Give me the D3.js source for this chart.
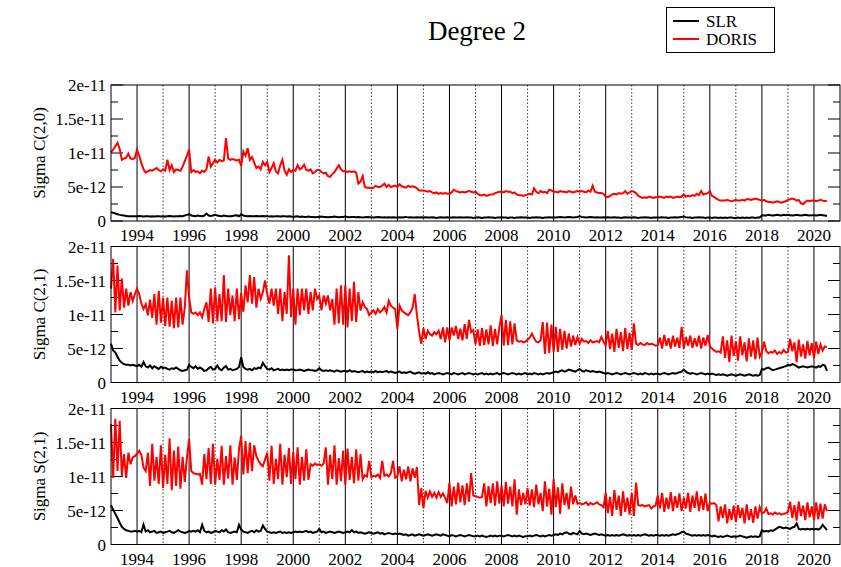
<!DOCTYPE html>
<head>
    <meta charset="utf-8">
    <script src="https://d3js.org/d3.v7.min.js"></script>
    <style>
        body { margin: 0; background: #fff; }
        text { font-family: "Liberation Serif", "Times New Roman", serif; fill: #000; }
    </style>
</head>

<body>
    <svg width="841" height="567"></svg>

    <script>
        // monthly values starting 1993.0, unit 1e-12
        const startYear = 1993

        const slrC20 = [
            1.3, 1.2, 1.1, 1.0, 0.9, 0.85, 0.8, 0.75, 0.7, 0.7, 0.7, 0.7,
            0.7, 0.75, 0.7, 0.65, 0.7, 0.7, 0.65, 0.7, 0.65, 0.7, 0.7, 0.65,
            0.7, 0.65, 0.7, 0.75, 0.7, 0.65, 0.7, 0.7, 0.75, 0.7, 0.8, 0.9,
            1.0, 0.8, 0.75, 0.7, 0.8, 0.75, 0.7, 0.8, 1.1, 0.8, 0.75, 0.8,
            0.9, 0.8, 0.75, 0.7, 0.8, 0.75, 0.7, 0.7, 0.75, 0.8, 0.85, 0.7,
            1.0, 0.8, 0.75, 0.7, 0.75, 0.7, 0.7, 0.75, 0.7, 0.7, 0.75, 0.7,
            0.7, 0.65, 0.7, 0.65, 0.7, 0.7, 0.65, 0.7, 0.7, 0.65, 0.7, 0.65,
            0.6, 0.65, 0.7, 0.6, 0.65, 0.6, 0.6, 0.65, 0.6, 0.6, 0.55, 0.6,
            0.6, 0.65, 0.6, 0.6, 0.55, 0.6, 0.6, 0.65, 0.6, 0.55, 0.6, 0.6,
            0.65, 0.6, 0.55, 0.6, 0.6, 0.55, 0.6, 0.55, 0.5, 0.55, 0.6, 0.55,
            0.55, 0.5, 0.55, 0.6, 0.55, 0.5, 0.55, 0.5, 0.55, 0.5, 0.55, 0.5,
            0.5, 0.55, 0.5, 0.55, 0.6, 0.5, 0.55, 0.5, 0.5, 0.55, 0.5, 0.55,
            0.5, 0.55, 0.5, 0.5, 0.55, 0.5, 0.45, 0.5, 0.55, 0.5, 0.5, 0.55,
            0.5, 0.5, 0.55, 0.5, 0.5, 0.55, 0.5, 0.5, 0.55, 0.5, 0.5, 0.45,
            0.5, 0.55, 0.5, 0.45, 0.5, 0.5, 0.55, 0.5, 0.5, 0.45, 0.5, 0.5,
            0.55, 0.5, 0.5, 0.45, 0.5, 0.5, 0.45, 0.5, 0.5, 0.55, 0.5, 0.5,
            0.5, 0.45, 0.5, 0.5, 0.55, 0.5, 0.5, 0.45, 0.5, 0.5, 0.55, 0.5,
            0.55, 0.5, 0.55, 0.6, 0.55, 0.5, 0.55, 0.6, 0.55, 0.5, 0.55, 0.6,
            0.7, 0.6, 0.55, 0.5, 0.55, 0.6, 0.55, 0.5, 0.55, 0.5, 0.5, 0.55,
            0.5, 0.55, 0.5, 0.5, 0.55, 0.5, 0.5, 0.45, 0.5, 0.55, 0.5, 0.5,
            0.5, 0.55, 0.5, 0.45, 0.5, 0.5, 0.55, 0.5, 0.5, 0.45, 0.5, 0.5,
            0.5, 0.5, 0.55, 0.5, 0.5, 0.45, 0.5, 0.5, 0.55, 0.5, 0.55, 0.6,
            0.65, 0.55, 0.5, 0.5, 0.45, 0.5, 0.5, 0.55, 0.5, 0.5, 0.45, 0.5,
            0.5, 0.45, 0.5, 0.5, 0.45, 0.5, 0.45, 0.5, 0.45, 0.5, 0.5, 0.45,
            0.45, 0.5, 0.45, 0.5, 0.45, 0.5, 0.45, 0.5, 0.5, 0.45, 0.5, 0.5,
            0.8, 0.85, 0.8, 0.9, 0.85, 0.8, 0.85, 0.9, 0.85, 0.8, 0.9, 0.85,
            0.9, 0.85, 0.8, 0.85, 0.9, 0.85, 0.8, 0.85, 0.9, 0.85, 0.8, 0.85,
            0.85, 0.8, 0.85, 0.9, 0.85, 0.8, 0.75
        ]

        const dorisC20 = [
            10.1, 10.5, 11.0, 11.5, 10.6, 9.0, 9.2, 9.3, 9.9, 9.2, 9.1, 9.3,
            10.5, 9.6, 8.5, 7.6, 7.1, 7.3, 7.5, 7.4, 7.6, 7.8, 7.5, 7.3,
            7.6, 7.4, 9.0, 7.5, 8.2, 7.2, 7.6, 7.5, 7.4, 8.0, 8.8, 9.6,
            10.5, 7.2, 7.5, 7.2, 7.3, 7.0, 7.4, 7.2, 7.6, 9.5, 8.0, 8.5,
            9.0, 8.6, 9.0, 8.8, 8.9, 12.2, 9.2, 9.0, 9.1, 9.0, 8.9, 9.0,
            8.1, 10.2, 9.6, 10.7, 9.0, 9.4, 8.6, 7.8, 8.0, 7.6, 8.7, 8.2,
            8.7, 7.2, 7.8, 8.5, 7.3, 7.0, 8.2, 9.0, 7.4, 6.8, 7.6, 7.2,
            7.5, 7.4, 8.2, 7.6, 7.8, 8.3, 7.5, 7.4, 7.6, 7.0, 7.2, 7.5,
            7.5, 7.2, 7.0, 7.1, 6.6, 6.5, 6.9, 7.2, 7.7, 8.2, 7.6, 7.3,
            7.3, 7.2, 7.3, 7.2, 7.3, 7.1, 5.5, 5.8, 6.6, 5.0, 4.9, 4.9,
            4.8, 4.9, 5.2, 5.0, 5.0, 5.2, 5.5, 5.0, 5.3, 5.0, 5.1, 5.2,
            5.0, 5.4, 5.1, 5.0, 4.9, 5.2, 5.0, 5.1, 5.0, 4.8, 4.5, 4.5,
            4.5, 4.4, 4.3, 4.4, 4.2, 4.1, 4.2, 4.0, 4.1, 4.0, 4.1, 4.0,
            4.0, 4.2, 4.6, 4.4, 4.3, 4.2, 4.3, 4.2, 4.3, 4.4, 4.3, 4.2,
            4.3, 4.0, 3.8, 3.8, 3.9, 3.7, 3.8, 3.9, 3.9, 4.1, 4.2, 4.3,
            4.3, 4.2, 4.4, 4.3, 4.3, 4.1, 4.2, 3.9, 3.8, 3.8, 3.7, 3.8,
            3.9, 4.0, 3.9, 4.8, 4.3, 4.1, 4.4, 4.2, 4.3, 4.1, 4.6, 4.5,
            4.3, 4.3, 4.2, 4.4, 4.3, 4.3, 4.2, 4.4, 4.3, 4.2, 4.3, 4.4,
            4.3, 4.4, 4.3, 4.2, 4.5, 4.3, 5.2, 4.3, 4.2, 4.1, 4.1, 4.0,
            3.6, 3.5, 3.7, 3.9, 4.0, 3.9, 4.1, 4.0, 4.1, 4.4, 4.0, 4.2,
            4.4, 4.3, 4.1, 3.7, 3.5, 3.4, 3.5, 3.4, 3.6, 3.5, 3.4, 3.5,
            3.5, 3.6, 3.5, 3.4, 3.6, 3.5, 3.6, 3.4, 3.5, 3.6, 3.5, 3.6,
            3.9, 3.6, 3.7, 3.6, 3.8, 3.7, 4.0, 3.8, 4.4, 3.9, 4.0, 4.1,
            4.4, 3.7, 3.5, 3.3, 3.1, 3.0, 3.0, 3.0, 3.1, 3.0, 2.9, 3.0,
            3.1, 3.0, 3.0, 3.1, 3.0, 3.2, 3.2, 3.1, 3.2, 3.3, 3.2, 3.1,
            3.0, 3.1, 2.9, 2.8, 2.8, 2.7, 2.8, 2.9, 2.8, 2.7, 2.8, 2.9,
            3.1, 3.2, 3.3, 3.2, 3.0, 3.1, 2.6, 2.5, 2.8, 3.0, 2.9, 3.0,
            3.0, 2.9, 3.0, 3.1, 3.0, 2.9, 3.0
        ]

        const slrC21 = [
            5.7, 4.7, 4.4, 3.8, 3.2, 2.9, 2.7, 2.6, 2.6, 2.5, 2.6, 2.5,
            2.4, 2.6, 2.3, 3.0, 2.4, 2.2, 2.5, 2.1, 2.4, 2.2, 2.0, 2.3,
            2.1, 2.2, 2.0, 1.9, 2.1, 2.0, 2.2, 2.0, 1.8, 1.7, 1.8, 1.9,
            2.6, 2.3, 2.1, 2.4, 2.0, 2.2, 2.0, 1.7, 1.8, 2.1, 2.3, 1.9,
            2.0, 2.5, 2.0, 1.8, 2.2, 2.4, 1.9, 2.0, 1.8, 1.9, 2.0, 2.3,
            3.7, 2.3, 2.0, 1.9, 2.0, 1.8, 2.1, 2.0, 2.2, 2.1, 2.9, 2.4,
            2.0, 1.9, 2.1, 1.8, 1.9, 2.0, 1.8, 1.9, 1.8, 1.9, 1.8, 1.9,
            1.9, 1.8, 1.8, 1.9, 1.8, 1.7, 1.8, 1.9, 1.8, 1.8, 1.7, 1.8,
            2.1, 1.8, 1.7, 1.8, 1.7, 1.8, 1.7, 1.6, 1.8, 1.7, 1.6, 1.7,
            1.7, 1.6, 1.8, 1.6, 1.7, 1.6, 1.5, 1.6, 1.7, 1.5, 1.6, 1.5,
            1.6, 1.5, 1.7, 1.5, 1.6, 1.5, 1.6, 1.7, 1.5, 1.6, 1.5, 1.4,
            1.5, 1.6, 1.4, 1.5, 1.4, 1.5, 1.6, 1.4, 1.3, 1.4, 1.5, 1.3,
            1.4, 1.3, 1.5, 1.3, 1.4, 1.2, 1.3, 1.4, 1.3, 1.2, 1.3, 1.4,
            1.3, 1.2, 1.4, 1.3, 1.2, 1.3, 1.4, 1.2, 1.3, 1.4, 1.3, 1.2,
            1.3, 1.2, 1.3, 1.4, 1.2, 1.3, 1.2, 1.3, 1.2, 1.3, 1.4, 1.2,
            1.3, 1.4, 1.3, 1.2, 1.3, 1.4, 1.3, 1.2, 1.3, 1.2, 1.3, 1.4,
            1.2, 1.3, 1.2, 1.4, 1.3, 1.2, 1.3, 1.2, 1.3, 1.4, 1.3, 1.4,
            1.5, 1.6, 1.5, 1.7, 1.8, 1.6, 1.7, 1.9, 1.8, 1.7, 1.6, 1.8,
            2.0, 1.7, 1.6, 1.8, 1.7, 1.6, 1.7, 1.6, 1.5, 1.6, 1.5, 1.4,
            1.3, 1.4, 1.3, 1.2, 1.3, 1.4, 1.3, 1.2, 1.3, 1.4, 1.3, 1.2,
            1.3, 1.4, 1.3, 1.2, 1.3, 1.2, 1.4, 1.3, 1.2, 1.3, 1.2, 1.3,
            1.3, 1.2, 1.3, 1.4, 1.3, 1.2, 1.3, 1.4, 1.3, 1.4, 1.5, 1.6,
            1.9, 1.6, 1.4, 1.3, 1.4, 1.3, 1.2, 1.3, 1.4, 1.3, 1.2, 1.3,
            1.2, 1.3, 1.2, 1.1, 1.2, 1.1, 1.2, 1.1, 1.0, 1.1, 1.2, 1.1,
            1.0, 1.1, 1.2, 1.1, 1.0, 1.1, 1.2, 1.1, 1.0, 1.1, 1.0, 1.1,
            2.0, 1.9, 2.1, 2.2, 2.0, 1.8, 1.9, 2.0, 2.1, 2.2, 2.3, 2.4,
            2.6, 2.5, 2.7, 2.6, 2.4, 2.2, 2.3, 2.4, 2.3, 2.2, 2.3, 2.4,
            2.3, 2.2, 2.4, 2.3, 2.6, 2.5, 1.7
        ]

        const dorisC21 = [
            13.8, 18.2, 10.3, 17.2, 10.6, 15.3, 11.0, 13.8, 11.3, 13.3, 12.0, 13.0,
            13.8, 13.0, 11.6, 10.8, 11.5, 9.9, 12.2, 9.5, 13.0, 8.5, 13.5, 8.8,
            12.5, 8.3, 12.5, 8.2, 12.0, 8.0, 12.5, 8.1, 12.5, 8.5, 11.0, 16.5,
            12.5, 10.3, 10.1, 10.3, 9.9, 10.3, 9.6, 10.8, 11.8, 8.9, 13.8, 8.7,
            14.0, 9.0, 13.0, 9.0, 15.8, 8.9, 13.8, 9.9, 12.8, 9.0, 13.8, 9.3,
            13.2, 10.4, 14.3, 11.8, 15.8, 11.6, 15.5, 11.0, 13.8, 12.3, 13.3, 15.0,
            13.0, 11.6, 13.8, 11.3, 13.8, 10.1, 13.8, 9.0, 13.3, 10.1, 18.7, 9.6,
            13.8, 8.5, 13.8, 9.9, 13.8, 10.6, 13.8, 10.1, 13.3, 10.6, 13.8, 12.3,
            12.8, 10.6, 12.8, 11.6, 12.8, 10.6, 12.3, 8.5, 13.8, 8.7, 14.3, 8.5,
            14.3, 8.1, 13.8, 9.0, 14.8, 8.9, 13.3, 10.6, 11.8, 11.1, 10.8, 9.9,
            10.3, 10.6, 10.1, 10.8, 10.3, 10.6, 11.1, 10.3, 12.0, 11.3, 11.0, 10.8,
            7.9, 11.3, 10.6, 10.3, 10.1, 9.9, 10.3, 11.0, 13.0, 9.9, 7.5, 5.7,
            8.0, 6.4, 7.6, 7.1, 6.9, 7.4, 7.1, 7.6, 6.4, 8.1, 5.9, 8.1,
            6.2, 8.1, 6.9, 8.3, 6.4, 7.9, 6.2, 8.6, 6.4, 9.2, 7.4, 7.7,
            5.6, 7.8, 5.4, 8.0, 5.5, 7.8, 5.6, 8.4, 5.4, 7.9, 5.6, 8.1,
            9.9, 5.4, 9.2, 5.5, 9.0, 5.6, 8.7, 6.2, 6.0, 6.1, 5.9, 6.0,
            6.3, 6.6, 7.2, 6.5, 6.0, 5.9, 6.2, 8.9, 4.2, 8.8, 4.3, 8.5,
            4.5, 8.2, 4.5, 7.9, 4.8, 7.6, 5.0, 7.2, 5.3, 6.9, 5.5, 6.7,
            5.7, 6.4, 6.0, 6.1, 5.8, 6.2, 5.9, 6.0, 6.1, 5.9, 6.7, 6.0,
            5.5, 7.6, 4.9, 7.2, 4.5, 7.9, 5.1, 7.4, 4.6, 8.0, 4.9, 7.3,
            4.8, 8.7, 5.7, 5.5, 5.8, 5.6, 5.5, 5.8, 5.6, 5.7, 5.6, 5.4,
            5.5, 6.6, 5.0, 7.0, 5.4, 6.5, 5.0, 6.9, 5.3, 6.6, 5.1, 8.2,
            5.0, 6.7, 5.4, 6.9, 5.1, 6.5, 5.3, 6.9, 5.0, 6.6, 5.4, 7.0,
            5.3, 5.0, 4.7, 4.5, 4.6, 4.4, 6.8, 3.6, 6.2, 3.0, 6.9, 3.9,
            6.1, 3.2, 6.8, 4.0, 5.9, 3.1, 6.5, 3.8, 6.2, 3.4, 6.6, 3.8,
            4.4, 6.0, 4.6, 4.3, 4.5, 4.4, 4.7, 4.2, 4.5, 4.3, 4.8, 4.4,
            4.5, 6.4, 4.6, 5.9, 3.0, 6.3, 3.8, 5.6, 3.5, 6.1, 4.0, 5.8,
            3.6, 6.0, 4.2, 5.6, 4.7, 5.3, 5.2
        ]

        const slrS21 = [
            5.8, 5.1, 4.5, 3.9, 3.2, 2.6, 2.3, 2.1, 2.0, 1.9, 1.9, 2.0,
            1.9, 2.0, 1.8, 2.9, 1.9, 2.1, 1.8, 1.9, 2.0, 1.7, 1.8, 1.9,
            1.7, 1.8, 1.9, 2.0, 1.8, 1.7, 1.9, 2.1, 1.9, 1.8, 1.7, 1.8,
            2.0, 1.9, 2.0, 1.9, 2.1, 1.8, 2.9, 2.0, 1.8, 1.9, 1.7, 1.8,
            2.0, 1.9, 1.8, 2.1, 1.9, 2.2, 1.8, 1.7, 1.8, 1.9, 1.8, 2.9,
            2.2, 1.9, 1.8, 1.7, 1.9, 2.0, 1.8, 2.1, 1.9, 2.0, 2.8, 2.3,
            1.9, 1.8, 1.7, 1.8, 1.7, 1.8, 1.9, 1.7, 1.8, 1.7, 1.8, 1.7,
            1.8, 1.9, 1.8, 1.9, 1.8, 1.9, 2.0, 1.8, 1.9, 1.7, 1.8, 1.9,
            2.3, 1.8, 1.9, 1.7, 1.8, 1.9, 1.8, 1.7, 1.8, 1.9, 1.8, 1.7,
            1.8, 1.9, 1.8, 2.1, 1.8, 1.9, 1.7, 1.8, 1.7, 1.6, 1.7, 1.8,
            1.7, 1.6, 1.7, 1.8, 1.6, 1.7, 1.5, 1.6, 1.7, 1.6, 1.5, 1.6,
            1.5, 1.6, 1.5, 1.4, 1.5, 1.3, 1.4, 1.5, 1.3, 1.4, 1.5, 1.4,
            1.3, 1.4, 1.5, 1.4, 1.3, 1.4, 1.5, 1.4, 1.3, 1.5, 1.4, 1.3,
            1.2, 1.4, 1.3, 1.2, 1.3, 1.4, 1.3, 1.2, 1.3, 1.4, 1.3, 1.2,
            1.2, 1.3, 1.2, 1.3, 1.2, 1.1, 1.2, 1.3, 1.2, 1.3, 1.2, 1.3,
            1.3, 1.2, 1.3, 1.4, 1.3, 1.2, 1.3, 1.2, 1.3, 1.2, 1.1, 1.2,
            1.2, 1.3, 1.2, 1.3, 1.4, 1.3, 1.2, 1.3, 1.2, 1.3, 1.4, 1.3,
            1.4, 1.5, 1.4, 1.6, 1.5, 1.7, 1.8, 1.6, 1.5, 1.7, 1.6, 1.5,
            2.0, 1.6, 1.5, 1.6, 1.5, 1.4, 1.5, 1.6, 1.5, 1.4, 1.5, 1.4,
            1.3, 1.4, 1.3, 1.4, 1.3, 1.4, 1.3, 1.4, 1.5, 1.4, 1.3, 1.4,
            1.3, 1.4, 1.3, 1.4, 1.3, 1.4, 1.5, 1.4, 1.3, 1.4, 1.3, 1.4,
            1.4, 1.3, 1.4, 1.3, 1.4, 1.3, 1.4, 1.5, 1.4, 1.5, 1.6, 1.8,
            1.9, 1.6, 1.5, 1.4, 1.3, 1.4, 1.3, 1.4, 1.3, 1.4, 1.3, 1.4,
            1.3, 1.2, 1.3, 1.2, 1.1, 1.2, 1.1, 1.2, 1.3, 1.2, 1.1, 1.2,
            1.1, 1.2, 1.3, 1.2, 1.1, 1.0, 1.1, 1.2, 1.1, 1.2, 1.1, 1.2,
            2.1, 1.9, 2.0, 1.9, 2.1, 2.0, 2.2, 2.4, 2.6, 2.5, 2.4, 2.5,
            2.4, 2.3, 2.5, 2.6, 3.1, 2.3, 2.2, 2.3, 2.2, 2.3, 2.2, 2.3,
            2.2, 2.3, 2.2, 2.4, 2.9, 2.5, 2.1
        ]

        const dorisS21 = [
            17.7, 9.8, 18.5, 10.8, 18.2, 10.1, 13.3, 9.8, 13.5, 11.8, 12.8, 13.0,
            13.3, 13.8, 13.2, 11.3, 10.8, 13.5, 8.6, 14.8, 9.4, 12.9, 8.9, 14.6,
            8.3, 13.2, 8.9, 15.6, 8.0, 13.8, 8.6, 14.4, 8.2, 12.9, 9.2, 12.8,
            15.5, 10.8, 10.5, 10.4, 10.3, 10.4, 8.8, 13.3, 9.6, 14.2, 8.9, 14.8,
            8.8, 12.6, 9.5, 14.5, 8.8, 13.0, 9.7, 14.6, 8.8, 12.8, 9.5, 14.0,
            16.0, 10.3, 15.2, 10.5, 15.0, 10.8, 14.6, 13.0, 12.3, 11.8, 11.5, 12.5,
            13.5, 9.4, 14.5, 8.9, 12.6, 9.6, 14.8, 8.8, 13.2, 9.9, 14.2, 8.9,
            13.6, 9.6, 14.3, 8.8, 12.9, 9.4, 14.0, 9.5, 11.8, 11.6, 11.9, 11.7,
            11.8, 11.6, 11.9, 14.3, 8.8, 13.2, 9.6, 14.6, 8.8, 12.7, 9.3, 13.8,
            8.8, 14.1, 9.5, 12.9, 9.0, 14.0, 9.4, 13.3, 9.6, 10.2, 10.0, 12.3,
            9.9, 10.1, 10.0, 10.3, 9.8, 12.3, 10.1, 10.3, 10.0, 10.5, 12.3, 9.8,
            10.0, 11.5, 9.3, 11.0, 9.6, 11.5, 9.3, 11.2, 9.8, 11.4, 5.8, 8.3,
            5.3, 7.9, 6.9, 7.8, 7.0, 7.6, 6.9, 7.7, 7.0, 7.5, 6.9, 6.1,
            9.1, 5.6, 8.5, 5.9, 9.1, 6.2, 8.7, 5.8, 9.0, 6.3, 10.5, 7.2,
            7.1, 7.0, 6.9, 7.0, 9.0, 5.6, 8.6, 6.1, 9.0, 5.7, 9.3, 6.0,
            8.7, 5.6, 9.2, 6.0, 8.5, 5.6, 9.6, 4.4, 8.1, 5.8, 7.6, 5.9,
            8.3, 5.7, 8.1, 5.5, 8.8, 5.9, 7.6, 4.9, 9.3, 5.6, 8.2, 4.4,
            9.6, 5.5, 8.4, 4.5, 9.0, 5.8, 7.6, 5.2, 8.5, 5.9, 7.2, 6.0,
            6.1, 5.9, 6.0, 6.2, 5.8, 6.1, 5.9, 6.0, 6.2, 5.9, 5.8, 5.5,
            7.6, 4.6, 7.0, 4.2, 8.0, 5.1, 7.2, 4.2, 7.8, 4.8, 6.9, 4.4,
            7.6, 4.2, 9.1, 5.8, 5.7, 5.8, 5.6, 5.7, 5.8, 5.3, 5.6, 5.7,
            7.2, 5.3, 7.6, 4.8, 6.9, 5.2, 7.7, 4.9, 7.1, 5.4, 7.5, 4.9,
            6.9, 5.3, 7.6, 4.8, 7.2, 5.4, 7.8, 4.9, 7.1, 5.1, 7.5, 4.9,
            6.1, 6.0, 6.1, 5.8, 3.4, 5.6, 3.9, 5.9, 3.1, 5.2, 3.6, 5.7,
            3.3, 5.8, 3.9, 5.4, 3.1, 5.9, 3.6, 5.2, 3.2, 5.6, 3.8, 5.5,
            4.6, 4.7, 5.3, 4.5, 4.6, 4.4, 4.7, 4.5, 4.6, 4.4, 4.5, 4.6,
            4.8, 6.3, 3.9, 5.8, 3.5, 6.3, 4.2, 5.7, 3.6, 6.2, 4.0, 5.6,
            3.6, 6.2, 3.7, 6.0, 3.8, 5.9, 4.9
        ]

        const yTicks = [0, 5, 10, 15, 20]
        const yTickLabels = ["0", "5e-12", "1e-11", "1.5e-11", "2e-11"]
        const yMinor = [2.5, 7.5, 12.5, 17.5]
        const xLabelYears = d3.range(1994, 2021, 2)

        const panels = [
            { label: "Sigma C(2,0)", slr: slrC20, doris: dorisC20, top: 85 },
            { label: "Sigma C(2,1)", slr: slrC21, doris: dorisC21, top: 246.5 },
            { label: "Sigma S(2,1)", slr: slrS21, doris: dorisS21, top: 408.5 }
        ]

        const svg = d3.select("svg")
        const left = 111, right = 840, ph = 136

        const x = d3.scaleLinear().domain([1993, 2021]).range([left, right])

        // title
        svg.append("text")
            .attr("x", 477).attr("y", 40)
            .attr("text-anchor", "middle")
            .style("font-size", "27px")
            .text("Degree 2")

        // legend
        const lg = svg.append("g")
        lg.append("rect")
            .attr("x", 666.5).attr("y", 7.5).attr("width", 108).attr("height", 45)
            .attr("fill", "#fff").attr("stroke", "#000").attr("stroke-width", 1)
        const legendItems = [["SLR", "#000", 21], ["DORIS", "#ff0000", 39]]
        legendItems.forEach(d => {
            lg.append("line")
                .attr("x1", 673).attr("x2", 699).attr("y1", d[2]).attr("y2", d[2])
                .attr("stroke", d[1]).attr("stroke-width", 2)
            lg.append("text")
                .attr("x", 706).attr("y", d[2] + 6)
                .style("font-size", "17px")
                .text(d[0])
        })

        panels.forEach(p => {
            const y = d3.scaleLinear().domain([0, 20]).range([p.top + ph, p.top])
            const g = svg.append("g")

            // grid: solid at even years, dotted at odd years
            g.selectAll("line.major")
                .data(d3.range(1994, 2021, 2))
                .enter().append("line")
                .attr("x1", d => x(d)).attr("x2", d => x(d))
                .attr("y1", p.top).attr("y2", p.top + ph)
                .attr("stroke", "#000").attr("stroke-width", 1)
            g.selectAll("line.minor")
                .data(d3.range(1995, 2021, 2))
                .enter().append("line")
                .attr("x1", d => x(d)).attr("x2", d => x(d))
                .attr("y1", p.top).attr("y2", p.top + ph)
                .attr("stroke", "#000").attr("stroke-width", 0.8)
                .attr("stroke-dasharray", "1.5,2")

            // y ticks, inward on both sides
            const ticks = yTicks.map(v => [v, 12]).concat(yMinor.map(v => [v, 7]))
            ticks.forEach(t => {
                g.append("line")
                    .attr("x1", left).attr("x2", left + t[1])
                    .attr("y1", y(t[0])).attr("y2", y(t[0]))
                    .attr("stroke", "#000")
                g.append("line")
                    .attr("x1", right).attr("x2", right - t[1])
                    .attr("y1", y(t[0])).attr("y2", y(t[0]))
                    .attr("stroke", "#000")
            })

            g.selectAll("text.yl")
                .data(yTicks)
                .enter().append("text")
                .attr("x", left - 5).attr("y", d => y(d) + 6)
                .attr("text-anchor", "end")
                .style("font-size", "17px")
                .text((d, i) => yTickLabels[i])

            g.selectAll("text.xl")
                .data(xLabelYears)
                .enter().append("text")
                .attr("x", d => x(d)).attr("y", p.top + ph + 20)
                .attr("text-anchor", "middle")
                .style("font-size", "17px")
                .text(d => d)

            g.append("text")
                .attr("transform", `translate(45,${p.top + ph / 2}) rotate(-90)`)
                .attr("text-anchor", "middle")
                .style("font-size", "17px")
                .text(p.label)

            const line = d3.line()
                .x((d, i) => x(startYear + i / 12))
                .y(d => y(d))

            g.append("path")
                .attr("d", line(p.slr))
                .attr("fill", "none").attr("stroke", "#000").attr("stroke-width", 2)
            g.append("path")
                .attr("d", line(p.doris))
                .attr("fill", "none").attr("stroke", "#ff0000").attr("stroke-width", 2)

            g.append("rect")
                .attr("x", left).attr("y", p.top).attr("width", right - left).attr("height", ph)
                .attr("fill", "none").attr("stroke", "#000").attr("stroke-width", 1)
        })
    </script>
</body>
